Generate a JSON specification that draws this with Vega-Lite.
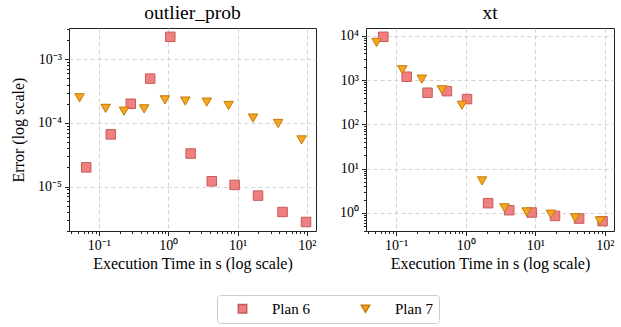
{
  "$schema": "https://vega.github.io/schema/vega-lite/v6.json",
  "padding": {"left": 10, "top": 2, "right": 0, "bottom": 5},
  "datasets": {
    "runs": [
      {"query": "outlier_prob", "plan": "Plan 6", "time": 0.0655, "error": 2.0e-5},
      {"query": "outlier_prob", "plan": "Plan 6", "time": 0.148, "error": 6.6e-5},
      {"query": "outlier_prob", "plan": "Plan 6", "time": 0.288, "error": 2.0e-4},
      {"query": "outlier_prob", "plan": "Plan 6", "time": 0.548, "error": 4.96e-4},
      {"query": "outlier_prob", "plan": "Plan 6", "time": 1.07, "error": 2.25e-3},
      {"query": "outlier_prob", "plan": "Plan 6", "time": 2.1, "error": 3.3e-5},
      {"query": "outlier_prob", "plan": "Plan 6", "time": 4.24, "error": 1.21e-5},
      {"query": "outlier_prob", "plan": "Plan 6", "time": 9.05, "error": 1.06e-5},
      {"query": "outlier_prob", "plan": "Plan 6", "time": 19.7, "error": 7.2e-6},
      {"query": "outlier_prob", "plan": "Plan 6", "time": 44.5, "error": 3.98e-6},
      {"query": "outlier_prob", "plan": "Plan 6", "time": 96.9, "error": 2.77e-6},
      {"query": "outlier_prob", "plan": "Plan 7", "time": 0.0525, "error": 2.48e-4},
      {"query": "outlier_prob", "plan": "Plan 7", "time": 0.125, "error": 1.69e-4},
      {"query": "outlier_prob", "plan": "Plan 7", "time": 0.23, "error": 1.53e-4},
      {"query": "outlier_prob", "plan": "Plan 7", "time": 0.449, "error": 1.66e-4},
      {"query": "outlier_prob", "plan": "Plan 7", "time": 0.895, "error": 2.3e-4},
      {"query": "outlier_prob", "plan": "Plan 7", "time": 1.76, "error": 2.2e-4},
      {"query": "outlier_prob", "plan": "Plan 7", "time": 3.59, "error": 2.12e-4},
      {"query": "outlier_prob", "plan": "Plan 7", "time": 7.41, "error": 1.88e-4},
      {"query": "outlier_prob", "plan": "Plan 7", "time": 16.7, "error": 1.19e-4},
      {"query": "outlier_prob", "plan": "Plan 7", "time": 38.4, "error": 9.8e-5},
      {"query": "outlier_prob", "plan": "Plan 7", "time": 83.7, "error": 5.4e-5},
      {"query": "xt", "plan": "Plan 6", "time": 0.0656, "error": 9500},
      {"query": "xt", "plan": "Plan 6", "time": 0.142, "error": 1190},
      {"query": "xt", "plan": "Plan 6", "time": 0.283, "error": 517},
      {"query": "xt", "plan": "Plan 6", "time": 0.537, "error": 562},
      {"query": "xt", "plan": "Plan 6", "time": 1.045, "error": 372},
      {"query": "xt", "plan": "Plan 6", "time": 2.1, "error": 1.66},
      {"query": "xt", "plan": "Plan 6", "time": 4.22, "error": 1.15},
      {"query": "xt", "plan": "Plan 6", "time": 8.87, "error": 1.02},
      {"query": "xt", "plan": "Plan 6", "time": 19.2, "error": 0.855},
      {"query": "xt", "plan": "Plan 6", "time": 42.6, "error": 0.745},
      {"query": "xt", "plan": "Plan 6", "time": 92.5, "error": 0.65},
      {"query": "xt", "plan": "Plan 7", "time": 0.0525, "error": 7070},
      {"query": "xt", "plan": "Plan 7", "time": 0.123, "error": 1710},
      {"query": "xt", "plan": "Plan 7", "time": 0.234, "error": 1050},
      {"query": "xt", "plan": "Plan 7", "time": 0.455, "error": 603},
      {"query": "xt", "plan": "Plan 7", "time": 0.885, "error": 270},
      {"query": "xt", "plan": "Plan 7", "time": 1.72, "error": 5.28},
      {"query": "xt", "plan": "Plan 7", "time": 3.61, "error": 1.3},
      {"query": "xt", "plan": "Plan 7", "time": 7.5, "error": 1.05},
      {"query": "xt", "plan": "Plan 7", "time": 16.7, "error": 0.935},
      {"query": "xt", "plan": "Plan 7", "time": 37.4, "error": 0.77},
      {"query": "xt", "plan": "Plan 7", "time": 84.9, "error": 0.66}
    ]
  },
  "data": {"name": "runs"},
  "config": {
    "font": "Liberation Serif",
    "view": {"stroke": "#222222", "strokeWidth": 1},
    "title": {"font": "Liberation Serif", "fontSize": 19.5, "fontWeight": "normal", "color": "#000000", "offset": 5},
    "axis": {
      "domain": false,
      "labelFont": "Liberation Serif",
      "labelFontSize": 14,
      "labelColor": "#000000",
      "titleFont": "Liberation Serif",
      "titleFontSize": 16,
      "titleFontWeight": "normal",
      "titleColor": "#000000",
      "tickColor": "#222222",
      "gridColor": "#c8c8c8",
      "gridDash": [4, 3],
      "gridWidth": 0.8
    },
    "legend": {
      "orient": "none",
      "legendX": 148,
      "legendY": 267,
      "direction": "horizontal",
      "title": null,
      "labelFont": "Liberation Serif",
      "labelFontSize": 15,
      "labelColor": "#000000",
      "labelOffset": 22,
      "symbolSize": 70,
      "symbolOffset": 12,
      "columnPadding": 36,
      "padding": 6,
      "strokeColor": "#cccccc",
      "cornerRadius": 3
    }
  },
  "spacing": 50,
  "bounds": "flush",
  "hconcat": [
    {
      "title": "outlier_prob",
      "width": 247,
      "height": 203,
      "transform": [{"filter": "datum.query === 'outlier_prob'"}],
      "resolve": {"axis": {"x": "independent", "y": "independent"}},
      "layer": [
        {
          "mark": {"type": "point", "filled": true, "opacity": 1, "strokeWidth": 1, "size": 90},
          "encoding": {
            "x": {"field": "time", "type": "quantitative", "scale": {"type": "log", "domain": [0.037, 135], "nice": false},
              "axis": {"orient": "bottom", "values": [0.1, 1, 10, 100], "grid": true, "tickSize": 4.5, "labelPadding": 3,
                "labelExpr": "['10⁻¹','10⁰','10¹','10²'][round(log(datum.value)/LN10)+1]",
                "title": "Execution Time in s (log scale)", "titlePadding": 3}},
            "y": {"field": "error", "type": "quantitative", "scale": {"type": "log", "domain": [2.0e-6, 3.1e-3], "nice": false},
              "axis": {"orient": "left", "values": [1e-5, 1e-4, 1e-3], "grid": true, "tickSize": 4.5, "labelPadding": 3,
                "labelExpr": "['10⁻⁵','10⁻⁴','10⁻³'][round(log(datum.value)/LN10)+5]",
                "title": "Error (log scale)", "titlePadding": 11}},
            "shape": {"field": "plan", "type": "nominal", "scale": {"domain": ["Plan 6", "Plan 7"], "range": ["square", "triangle-down"]}},
            "fill": {"field": "plan", "type": "nominal", "scale": {"domain": ["Plan 6", "Plan 7"], "range": ["#f08080", "#f5a623"]}},
            "stroke": {"field": "plan", "type": "nominal", "scale": {"domain": ["Plan 6", "Plan 7"], "range": ["#c65a5a", "#c47c06"]}}
          }
        },
        {
          "mark": {"type": "point", "opacity": 0},
          "encoding": {
            "x": {"field": "time", "type": "quantitative", "scale": {"type": "log", "domain": [0.037, 135], "nice": false},
              "axis": {"orient": "bottom", "values": [0.04, 0.05, 0.06, 0.07, 0.08, 0.09, 0.2, 0.3, 0.4, 0.5, 0.6, 0.7, 0.8, 0.9, 2, 3, 4, 5, 6, 7, 8, 9, 20, 30, 40, 50, 60, 70, 80, 90],
                "labels": false, "grid": false, "tickSize": 2.5, "title": null}},
            "y": {"field": "error", "type": "quantitative", "scale": {"type": "log", "domain": [2.0e-6, 3.1e-3], "nice": false},
              "axis": {"orient": "left", "values": [2e-6, 3e-6, 4e-6, 5e-6, 6e-6, 7e-6, 8e-6, 9e-6, 2e-5, 3e-5, 4e-5, 5e-5, 6e-5, 7e-5, 8e-5, 9e-5, 2e-4, 3e-4, 4e-4, 5e-4, 6e-4, 7e-4, 8e-4, 9e-4, 2e-3, 3e-3],
                "labels": false, "grid": false, "tickSize": 2.5, "title": null}}
          }
        }
      ]
    },
    {
      "title": "xt",
      "width": 248,
      "height": 203,
      "transform": [{"filter": "datum.query === 'xt'"}],
      "resolve": {"axis": {"x": "independent", "y": "independent"}},
      "layer": [
        {
          "mark": {"type": "point", "filled": true, "opacity": 1, "strokeWidth": 1, "size": 90},
          "encoding": {
            "x": {"field": "time", "type": "quantitative", "scale": {"type": "log", "domain": [0.037, 135], "nice": false},
              "axis": {"orient": "bottom", "values": [0.1, 1, 10, 100], "grid": true, "tickSize": 4.5, "labelPadding": 3,
                "labelExpr": "['10⁻¹','10⁰','10¹','10²'][round(log(datum.value)/LN10)+1]",
                "title": "Execution Time in s (log scale)", "titlePadding": 3}},
            "y": {"field": "error", "type": "quantitative", "scale": {"type": "log", "domain": [0.39, 15000], "nice": false},
              "axis": {"orient": "left", "values": [1, 10, 100, 1000, 10000], "grid": true, "tickSize": 4.5, "labelPadding": 3,
                "labelExpr": "['10⁰','10¹','10²','10³','10⁴'][round(log(datum.value)/LN10)]",
                "title": null}},
            "shape": {"field": "plan", "type": "nominal", "scale": {"domain": ["Plan 6", "Plan 7"], "range": ["square", "triangle-down"]}},
            "fill": {"field": "plan", "type": "nominal", "scale": {"domain": ["Plan 6", "Plan 7"], "range": ["#f08080", "#f5a623"]}},
            "stroke": {"field": "plan", "type": "nominal", "scale": {"domain": ["Plan 6", "Plan 7"], "range": ["#c65a5a", "#c47c06"]}}
          }
        },
        {
          "mark": {"type": "point", "opacity": 0},
          "encoding": {
            "x": {"field": "time", "type": "quantitative", "scale": {"type": "log", "domain": [0.037, 135], "nice": false},
              "axis": {"orient": "bottom", "values": [0.04, 0.05, 0.06, 0.07, 0.08, 0.09, 0.2, 0.3, 0.4, 0.5, 0.6, 0.7, 0.8, 0.9, 2, 3, 4, 5, 6, 7, 8, 9, 20, 30, 40, 50, 60, 70, 80, 90],
                "labels": false, "grid": false, "tickSize": 2.5, "title": null}},
            "y": {"field": "error", "type": "quantitative", "scale": {"type": "log", "domain": [0.39, 15000], "nice": false},
              "axis": {"orient": "left", "values": [0.4, 0.5, 0.6, 0.7, 0.8, 0.9, 2, 3, 4, 5, 6, 7, 8, 9, 20, 30, 40, 50, 60, 70, 80, 90, 200, 300, 400, 500, 600, 700, 800, 900, 2000, 3000, 4000, 5000, 6000, 7000, 8000, 9000],
                "labels": false, "grid": false, "tickSize": 2.5, "title": null}}
          }
        }
      ]
    }
  ]
}
